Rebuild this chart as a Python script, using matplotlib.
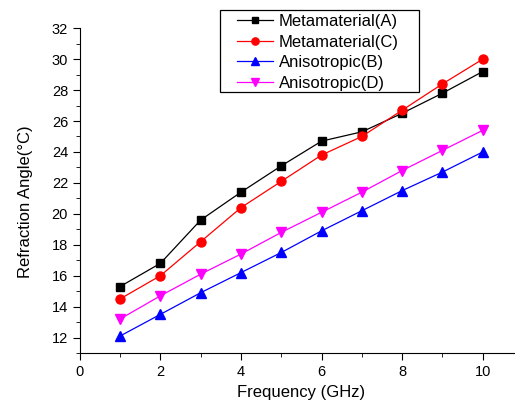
import matplotlib
matplotlib.use("Agg")
from matplotlib import pyplot as plt
from matplotlib.patches import Rectangle
from matplotlib.ticker import MultipleLocator

plt.rcParams["font.family"] = ["Liberation Sans", "DejaVu Sans"]

freq = [1, 2, 3, 4, 5, 6, 7, 8, 9, 10]
meta_a = [15.3, 16.8, 19.6, 21.4, 23.1, 24.7, 25.3, 26.5, 27.8, 29.2]
meta_c = [14.5, 16.0, 18.2, 20.4, 22.1, 23.8, 25.0, 26.7, 28.4, 30.0]
aniso_b = [12.1, 13.5, 14.9, 16.2, 17.5, 18.9, 20.2, 21.5, 22.7, 24.0]
aniso_d = [13.2, 14.7, 16.1, 17.4, 18.8, 20.1, 21.4, 22.8, 24.1, 25.4]

fig = plt.figure(figsize=(5.15, 4.03), dpi=100)
ax = fig.add_axes([0.155, 0.124, 0.845, 0.806])

ax.plot(freq, meta_a, color="black", marker="s", ms=5.5, lw=0.9, label="Metamaterial(A)")
ax.plot(freq, meta_c, color="red", marker="o", ms=6.5, lw=0.9, label="Metamaterial(C)")
ax.plot(freq, aniso_b, color="blue", marker="^", ms=7, lw=0.9, label="Anisotropic(B)")
ax.plot(freq, aniso_d, color="magenta", marker="v", ms=7, lw=0.9, label="Anisotropic(D)")

ax.set_xlim(0, 10.8)
ax.set_ylim(11, 32)
ax.xaxis.set_major_locator(MultipleLocator(2))
ax.xaxis.set_minor_locator(MultipleLocator(1))
ax.yaxis.set_minor_locator(MultipleLocator(1))
ax.set_yticks(range(12, 33, 2))
ax.tick_params(which="major", direction="out", length=5, labelsize=10.5)
ax.tick_params(which="minor", direction="out", length=3)

for side in ["top", "right"]:
    ax.spines[side].set_visible(False)

ax.set_xlabel("Frequency (GHz)", fontsize=12)
ax.set_ylabel("Refraction Angle(\u00b0C)", fontsize=12)
ax.xaxis.set_label_coords(0.509, -0.099)
ax.yaxis.set_label_coords(-0.108, 0.465)

# legend drawn without frame, box added separately (wide side padding)
leg = ax.legend(loc="center left", bbox_to_anchor=(0.460, 0.870),
                bbox_transform=fig.transFigure, fontsize=12,
                frameon=False, borderpad=0, borderaxespad=0,
                labelspacing=0.34, handlelength=2.15, handletextpad=0.36,
                markerscale=0.8)
fig.patches.append(Rectangle((0.427, 0.772), 0.386, 0.2035,
                             transform=fig.transFigure, fill=False,
                             edgecolor="black", lw=0.9))

fig.savefig("out.png", dpi=100)
